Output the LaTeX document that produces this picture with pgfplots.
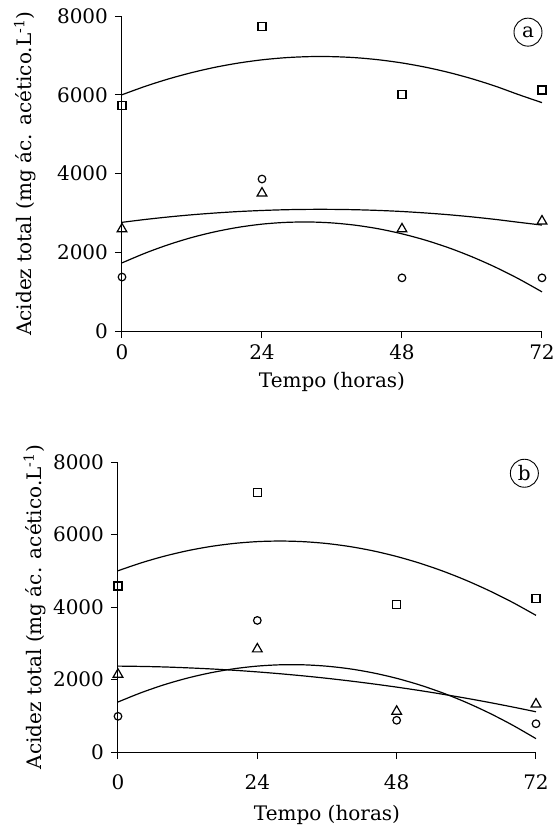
\documentclass[border=0pt]{standalone}
\usepackage{fontspec}
\setmainfont{DejaVu Serif}
\usepackage{pgfplots}
\pgfplotsset{compat=1.18}

\tikzset{rotulo/.style={draw, circle, line width=0.45pt, inner sep=0pt, minimum size=14pt}}

\pgfplotsset{
  painel/.style={
    scale only axis,
    xmin=0, xmax=72, ymin=0, ymax=8000,
    axis x line*=bottom, axis y line*=left,
    xtick={0,24,48,72}, ytick={0,2000,4000,6000,8000},
    tick align=outside, major tick length=3.5pt,
    scaled y ticks=false,
    /pgf/number format/1000 sep={},
    /pgf/number format/assume math mode=true,
    tick style={black, line width=0.5pt},
    axis line style={black, line width=0.5pt},
    xlabel={Tempo (horas)},
    ylabel={Acidez total (mg ác. acético.L\textsuperscript{-1})},
    clip=false,
  },
  ajuste/.style={black, line width=0.6pt, no markers, smooth},
  quad/.style={only marks, mark=square, mark size=2pt, mark options={black, fill=white, line width=0.6pt}},
  circ/.style={only marks, mark=o, mark size=1.9pt, mark options={black, fill=white, line width=0.6pt}},
  tri/.style={only marks, mark=triangle, mark size=2.8pt, mark options={black, fill=white, line width=0.6pt}},
}

\begin{document}
\begin{tikzpicture}

% (a)
\begin{axis}[painel,
  at={(0pt,0pt)}, anchor=south west,
  width=210pt, height=157.5pt,
  xlabel style={at={(axis description cs:0.5,-0.162)}, anchor=center},
  ylabel style={at={(axis description cs:-0.231,0.5)}, anchor=center},
]
  \addplot[ajuste] coordinates {
    (0,6000) (4,6215) (8,6403) (12,6564) (16,6699) (20,6806) (24,6887)
    (28,6941) (32,6968) (36,6968) (40,6942) (44,6888) (48,6808) (52,6701)
    (56,6567) (60,6406) (64,6218) (68,6003) (72,5800)
  };
  \addplot[ajuste] coordinates {
    (0,2760) (4,2833) (8,2897) (12,2952) (16,2997) (20,3034) (24,3061)
    (28,3080) (32,3089) (36,3089) (40,3080) (44,3062) (48,3035) (52,2998)
    (56,2953) (60,2898) (64,2834) (68,2761) (72,2690)
  };
  \addplot[ajuste] coordinates {
    (0,1730) (4,1979) (8,2195) (12,2376) (16,2522) (20,2635) (24,2714)
    (28,2758) (32,2769) (36,2745) (40,2687) (44,2595) (48,2468) (52,2308)
    (56,2114) (60,1885) (64,1622) (68,1325) (72,994)
  };
  \addplot[quad] coordinates {(0,5720) (24,7740) (48,6000) (72,6120)};
  \addplot[circ] coordinates {(0,1370) (24,3860) (48,1350) (72,1350)};
  \addplot[tri]  coordinates {(0,2590) (24,3500) (48,2590) (72,2790)};
  \node[rotulo] at (axis cs:69.6,7590) {a};
\end{axis}

% (b)
\begin{axis}[painel,
  at={(-2pt,-210.5pt)}, anchor=south west,
  width=209pt, height=145pt,
  xticklabel style={yshift=-4.5pt},
  xlabel style={at={(axis description cs:0.5,-0.217)}, anchor=center},
  ylabel style={at={(axis description cs:-0.1995,0.5)}, anchor=center},
]
  \addplot[ajuste] coordinates {
    (0,5000) (4,5218) (8,5403) (12,5554) (16,5671) (20,5754) (24,5804)
    (28,5820) (32,5802) (36,5751) (40,5666) (44,5547) (48,5394) (52,5208)
    (56,4988) (60,4734) (64,4446) (68,4125) (72,3770)
  };
  \addplot[ajuste] coordinates {
    (0,1380) (4,1637) (8,1858) (12,2041) (16,2187) (20,2297) (24,2370)
    (28,2406) (32,2405) (36,2367) (40,2293) (44,2181) (48,2033) (52,1848)
    (56,1626) (60,1367) (64,1071) (68,738) (72,369)
  };
  \addplot[ajuste] coordinates {
    (0,2370) (4,2361) (8,2346) (12,2322) (16,2292) (20,2255) (24,2210)
    (28,2158) (32,2099) (36,2033) (40,1959) (44,1878) (48,1790) (52,1695)
    (56,1592) (60,1483) (64,1366) (68,1241) (72,1110)
  };
  \addplot[quad] coordinates {(0,4580) (24,7160) (48,4070) (72,4230)};
  \addplot[circ] coordinates {(0,985) (24,3630) (48,875) (72,780)};
  \addplot[tri]  coordinates {(0,2140) (24,2840) (48,1120) (72,1320)};
  \node[rotulo] at (axis cs:70,7690) {b};
\end{axis}

\pgfresetboundingbox
\path (-61pt,-247pt) rectangle (218.5pt,165.5pt);
\end{tikzpicture}
\end{document}
